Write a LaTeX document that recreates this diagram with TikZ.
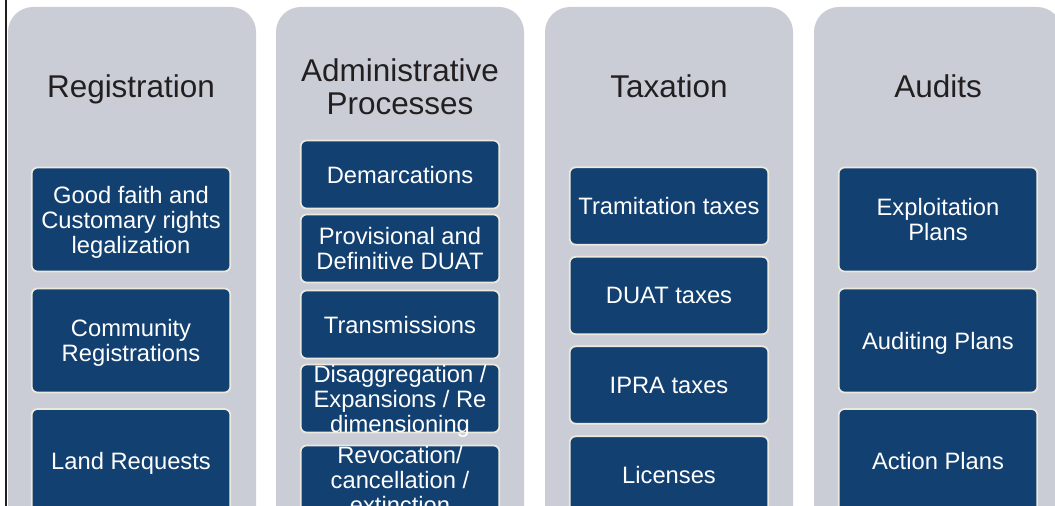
\documentclass[tikz,border=0pt]{standalone}
\usepackage{fontspec}
\setmainfont{Liberation Sans}
\definecolor{colgrey}{RGB}{202,205,214}
\definecolor{boxblue}{RGB}{18,64,113}
\definecolor{boxrim}{RGB}{236,233,222}
\definecolor{titleink}{RGB}{35,31,32}
\tikzset{
  column/.style={fill=colgrey, rounded corners=18.75pt},
  coltitle/.style={text=titleink, align=center, inner sep=0pt, text depth=0pt, font=\fontsize{23.6}{24.75}\selectfont},
  bluebox/.style={draw=boxrim, line width=1.3pt, fill=boxblue, rounded corners=4.5pt, minimum width=149pt, inner sep=0pt},
  boxtext/.style={text=white, align=center, inner sep=0pt, text depth=0pt, font=\fontsize{17.8}{18.75}\selectfont},
}
\begin{document}
\begin{tikzpicture}[x=0.75pt,y=0.75pt,yscale=-1,xscale=1]
    \useasboundingbox (0,0) rectangle (1055,506);
    \clip (0,0) rectangle (1055,506);

    %Straight Lines: left rule
    \draw [titleink, line width=1.6pt] (6,0) -- (6,506) ;

    %Shape: Columns
    \fill [column] (8,7) rectangle (256,560) ;
    \fill [column] (276,7) rectangle (524,560) ;
    \fill [column] (545,7) rectangle (793,560) ;
    \fill [column] (814,7) rectangle (1062,560) ;

    % Text Node
    \node [coltitle] (registration) at (131,86) {Registration};
    % Text Node
    \node [coltitle] (adminproc) at (400,87) {Administrative\\Processes};
    % Text Node
    \node [coltitle] (taxation) at (669,86) {Taxation};
    % Text Node
    \node [coltitle] (audits) at (938,86) {Audits};

    %Shape: Registration boxes
    \node [bluebox, minimum height=78pt, label={[boxtext]center:{Good faith and\\Customary rights\\legalization}}] (goodfaith) at (131,219.5) {};
    \node [bluebox, minimum height=78pt, label={[boxtext]center:{Community\\Registrations}}] (community) at (131,340.5) {};
    \node [bluebox, minimum height=78pt, label={[boxtext]center:{Land Requests}}] (landreq) at (131,461) {};

    %Shape: Administrative Processes boxes
    \node [bluebox, minimum height=51pt, label={[boxtext]center:{Demarcations}}] (demarc) at (400,174.5) {};
    \node [bluebox, minimum height=51pt, label={[boxtext]center:{Provisional and\\Definitive DUAT}}] (provduat) at (400,248.5) {};
    \node [bluebox, minimum height=51pt, label={[boxtext]center:{Transmissions}}] (transm) at (400,324.5) {};
    \node [bluebox, minimum height=51pt, label={[boxtext]center:{Disaggregation /\\Expansions / Re\\dimensioning}}] (disaggr) at (400,398.5) {};
    \node [bluebox, minimum height=51pt, label={[boxtext]center:{Revocation/\\cancellation /\\extinction}}] (revoc) at (400,479.5) {};

    %Shape: Taxation boxes
    \node [bluebox, minimum height=58pt, label={[boxtext]center:{Tramitation taxes}}] (tramtax) at (669,206) {};
    \node [bluebox, minimum height=58pt, label={[boxtext]center:{DUAT taxes}}] (duattax) at (669,295.5) {};
    \node [bluebox, minimum height=58pt, label={[boxtext]center:{IPRA taxes}}] (ipratax) at (669,385) {};
    \node [bluebox, minimum height=58pt, label={[boxtext]center:{Licenses}}] (licenses) at (669,475) {};

    %Shape: Audits boxes
    \node [bluebox, minimum height=78pt, label={[boxtext]center:{Exploitation\\Plans}}] (exploit) at (938,219.5) {};
    \node [bluebox, minimum height=78pt, label={[boxtext]center:{Auditing Plans}}] (auditing) at (938,340.5) {};
    \node [bluebox, minimum height=78pt, label={[boxtext]center:{Action Plans}}] (actionpl) at (938,461) {};

\end{tikzpicture}
\end{document}
